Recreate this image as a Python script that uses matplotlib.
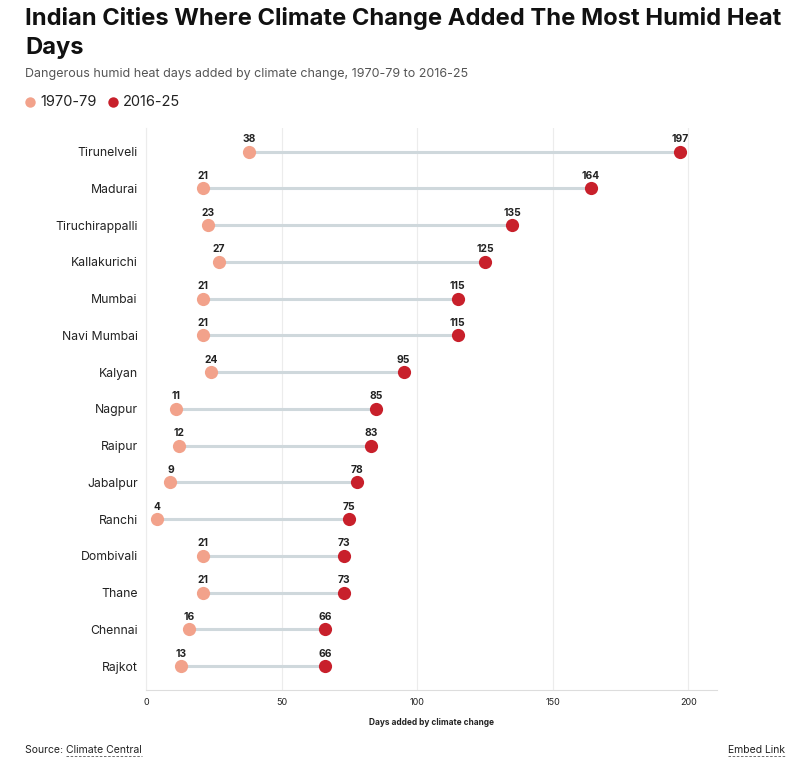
import matplotlib
matplotlib.use('Agg')
import matplotlib.pyplot as plt
import numpy as np

plt.rcParams['font.family'] = ['Inter', 'DejaVu Sans']

cities = ['Tirunelveli', 'Madurai', 'Tiruchirappalli', 'Kallakurichi', 'Mumbai',
          'Navi Mumbai', 'Kalyan', 'Nagpur', 'Raipur', 'Jabalpur', 'Ranchi',
          'Dombivali', 'Thane', 'Chennai', 'Rajkot']
days_1970 = [38, 21, 23, 27, 21, 21, 24, 11, 12, 9, 4, 21, 21, 16, 13]
days_2016 = [197, 164, 135, 125, 115, 115, 95, 85, 83, 78, 75, 73, 73, 66, 66]
xticks = [0, 50, 100, 150, 200]

c_old = '#f2a28b'
c_new = '#c8202b'
c_line = '#cfd8dc'

fig = plt.figure(figsize=(8.07, 7.65), dpi=100)
ax = fig.add_axes([0.181, 0.098, 0.707, 0.735])

y = np.arange(len(cities))
for i in range(len(cities)):
    ax.plot([days_1970[i], days_2016[i]], [y[i], y[i]], color=c_line, lw=2.2,
            zorder=2, solid_capstyle='butt')
ax.plot(days_1970, y, 'o', color=c_old, ms=9.5, zorder=3, mec='none')
ax.plot(days_2016, y, 'o', color=c_new, ms=9.5, zorder=3, mec='none')

for i in range(len(cities)):
    ax.annotate(str(days_1970[i]), (days_1970[i], y[i]), xytext=(0, 5.5),
                textcoords='offset points', ha='center', va='bottom',
                fontsize=7.4, fontweight='bold', color='#222222')
    ax.annotate(str(days_2016[i]), (days_2016[i], y[i]), xytext=(0, 5.5),
                textcoords='offset points', ha='center', va='bottom',
                fontsize=7.4, fontweight='bold', color='#222222')

ax.set_xlim(0, 210.5)
ax.set_ylim(len(cities) - 0.35, -0.65)
ax.set_yticks(y)
ax.set_yticklabels(cities, fontsize=8.8, color='#222222')
ax.set_xticks(xticks)
ax.set_xticklabels([str(t) for t in xticks], fontsize=6.5, color='#222222')
ax.tick_params(axis='y', length=0, pad=6)
ax.tick_params(axis='x', length=0, pad=6)
ax.grid(axis='x', color='#ececec', lw=0.8)
ax.set_axisbelow(True)
for s in ['top', 'right']:
    ax.spines[s].set_visible(False)
ax.spines['left'].set_color('#ececec')
ax.spines['bottom'].set_color('#dddddd')
ax.set_xlabel('Days added by climate change', fontsize=6, fontweight='bold',
              color='#222222', labelpad=8)

# header
fig.text(25 / 807, 1 - 19 / 765, 'Indian Cities Where Climate Change Added The Most Humid Heat',
         fontsize=17.1, fontweight='bold', va='center', color='#111111')
fig.text(25 / 807, 1 - 48 / 765, 'Days', fontsize=17.1, fontweight='bold',
         va='center', color='#111111')
fig.text(25 / 807, 1 - 74 / 765,
         'Dangerous humid heat days added by climate change, 1970-79 to 2016-25',
         fontsize=9, va='center', color='#555555')

# legend
fig.lines.append(plt.Line2D([30 / 807], [1 - 102 / 765], marker='o', ms=7.5,
                            color=c_old, mec='none', transform=fig.transFigure))
fig.text(40 / 807, 1 - 102 / 765, '1970-79', fontsize=10.5, va='center', color='#222222')
fig.lines.append(plt.Line2D([113 / 807], [1 - 102 / 765], marker='o', ms=7.5,
                            color=c_new, mec='none', transform=fig.transFigure))
fig.text(123 / 807, 1 - 102 / 765, '2016-25', fontsize=10.5, va='center', color='#222222')

# footer
src = fig.text(25 / 807, 1 - 750 / 765, 'Source: ', fontsize=7.5, va='center', color='#222222')
fig.canvas.draw()
r = fig.canvas.get_renderer()
bb = src.get_window_extent(r)
cc = fig.text(bb.x1 / 807, 1 - 750 / 765, 'Climate Central', fontsize=7.5,
              va='center', color='#222222')
emb = fig.text(785 / 807, 1 - 750 / 765, 'Embed Link', fontsize=7.5, va='center',
               ha='right', color='#222222')
fig.canvas.draw()
for t in [cc, emb]:
    b = t.get_window_extent(r)
    fig.lines.append(plt.Line2D([b.x0 / 807, b.x1 / 807], [(b.y0 - 1) / 765] * 2,
                                color='#555555', lw=0.6, ls=(0, (3, 2)),
                                transform=fig.transFigure))

fig.savefig('out.png', dpi=100)
